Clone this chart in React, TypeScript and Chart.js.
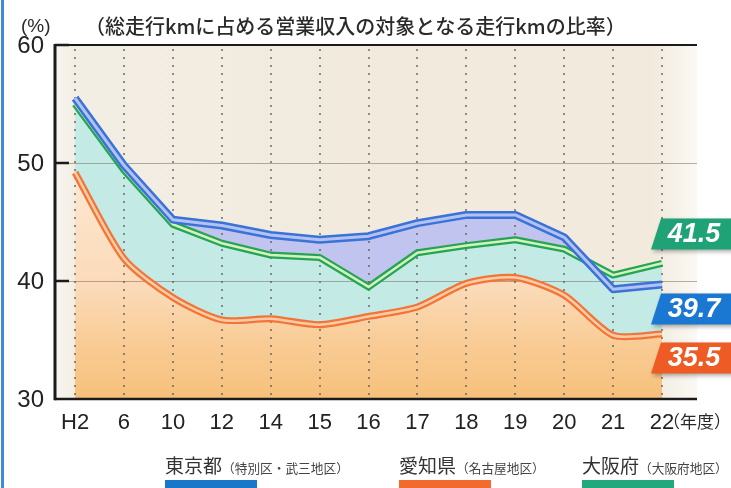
import React, { useEffect, useRef } from "react";
import { Chart, registerables } from "chart.js";

Chart.register(...registerables);

// Fiscal years (Heisei) on the horizontal axis
const categories = ["H2", "6", "10", "12", "14", "15", "16", "17", "18", "19", "20", "21", "22"];
// Share of revenue-earning km in total km driven (%)
const tokyo = [55.5, 49.8, 45.2, 44.7, 43.9, 43.5, 43.8, 44.9, 45.6, 45.6, 43.7, 39.3, 39.7];
const osaka = [55.0, 49.4, 44.8, 43.2, 42.2, 42.0, 39.5, 42.4, 43.0, 43.5, 42.7, 40.5, 41.5];
const aichi = [49.2, 41.9, 38.6, 36.7, 36.8, 36.3, 37.0, 37.8, 39.8, 40.3, 38.8, 35.4, 35.5];
const yTicks = [30, 40, 50, 60];

const seriesNames = ["東京都", "愛知県", "大阪府"];
const seriesAreas = ["（特別区・武三地区）", "（名古屋地区）", "（大阪府地区）"];
const titleText = "（総走行kmに占める営業収入の対象となる走行kmの比率）";
const unitText = "(%)";
const yearUnitText = "（年度）";

const NUM_FONT = '"Liberation Sans Narrow", "Liberation Sans", Arial, sans-serif';
const BADGE_FONT = '"Liberation Sans", Arial, sans-serif';
const UNIT_FONT = '"Liberation Sans", Arial, sans-serif';
const JP_FONT = '"Noto Sans CJK JP", "Noto Sans CJK SC", sans-serif';

const COLORS = {
  tokyo: { line: "#3b72d8", core: "#b3c2f3", legend: "#1877c9", badge: "#1a78d2" },
  aichi: { line: "#f07537", core: "#fdcca6", legend: "#f26a2e", badge: "#ee5b25" },
  osaka: { line: "#25a553", core: "#d3f2c0", legend: "#21a87c", badge: "#1fa276" },
};

const pts = (arr: number[]) => arr.map((y, i) => ({ x: i, y }));

// Plot background
const plotBackground = {
  id: "plotBackground",
  beforeDraw(chart: any) {
    const { ctx, chartArea: a } = chart;
    ctx.save();
    const g = ctx.createLinearGradient(a.left, 0, a.right, 0);
    g.addColorStop(0, "#f8f6f1");
    g.addColorStop(0.03, "#f3eee4");
    g.addColorStop(0.5, "#f1eadd");
    g.addColorStop(0.93, "#f1eadd");
    g.addColorStop(1, "#fbf9f5");
    ctx.fillStyle = g;
    ctx.fillRect(a.left, a.top, a.right - a.left, a.bottom - a.top);
    ctx.restore();
  },
};

// Horizontal guides and dotted year lines, drawn over the area fills
const guideLines = {
  id: "guideLines",
  beforeDatasetsDraw(chart: any) {
    const { ctx, chartArea: a, scales } = chart;
    const x = scales.x;
    const y = scales.y;
    ctx.save();
    ctx.strokeStyle = "rgba(120,112,100,0.55)";
    ctx.lineWidth = 1;
    yTicks.slice(1, -1).forEach((v) => {
      const py = Math.round(y.getPixelForValue(v)) + 0.5;
      ctx.beginPath();
      ctx.moveTo(a.left, py);
      ctx.lineTo(a.right, py);
      ctx.stroke();
    });
    ctx.strokeStyle = "rgba(100,96,90,0.7)";
    ctx.lineWidth = 2;
    ctx.setLineDash([2, 6]);
    categories.forEach((_, i) => {
      const px = Math.round(x.getPixelForValue(i));
      ctx.beginPath();
      ctx.moveTo(px, a.top + 4);
      ctx.lineTo(px, a.bottom);
      ctx.stroke();
    });
    ctx.restore();
  },
};

// Axis frame, inner tick marks, titles, end-value badges and legend
const decorations = {
  id: "decorations",
  afterDatasetsDraw(chart: any) {
    const { ctx, chartArea: a, scales } = chart;
    const y = scales.y;
    ctx.save();
    ctx.strokeStyle = "#1b1b1b";
    ctx.lineWidth = 2;
    ctx.beginPath();
    ctx.moveTo(a.left, a.top);
    ctx.lineTo(a.right, a.top);
    ctx.stroke();
    ctx.lineWidth = 2.5;
    ctx.beginPath();
    ctx.moveTo(a.left, a.bottom);
    ctx.lineTo(a.right, a.bottom);
    ctx.stroke();
    ctx.lineWidth = 3;
    ctx.beginPath();
    ctx.moveTo(a.left, a.top - 1);
    ctx.lineTo(a.left, a.bottom + 1.2);
    ctx.stroke();
    ctx.lineWidth = 2.5;
    yTicks.slice(1).forEach((v) => {
      const py = y.getPixelForValue(v);
      ctx.beginPath();
      ctx.moveTo(a.left, py);
      ctx.lineTo(a.left + 14, py);
      ctx.stroke();
    });
    ctx.restore();
  },
  afterDraw(chart: any) {
    const { ctx, chartArea: a, scales } = chart;
    const x = scales.x;
    ctx.save();

    // page edge rule
    ctx.fillStyle = "#3f8ad8";
    ctx.fillRect(1, 0, 3, chart.height);

    // unit and title
    ctx.fillStyle = "#2a2a2a";
    ctx.textBaseline = "alphabetic";
    ctx.textAlign = "left";
    ctx.font = `19px ${UNIT_FONT}`;
    ctx.fillText(unitText, 21, 32);
    ctx.font = `500 20px ${JP_FONT}`;
    ctx.fillText(titleText, 85, 34);

    // year unit next to last category
    const lastX = x.getPixelForValue(categories.length - 1);
    ctx.font = `17px ${JP_FONT}`;
    ctx.fillText(yearUnitText, lastX + 1, 428);

    // end-value badges
    const last = categories.length - 1;
    const badges = [
      { value: osaka[last], color: COLORS.osaka.badge, cy: 234 },
      { value: tokyo[last], color: COLORS.tokyo.badge, cy: 309 },
      { value: aichi[last], color: COLORS.aichi.badge, cy: 358 },
    ];
    badges.forEach((b) => {
      const h = 31;
      const top = b.cy - h / 2;
      ctx.save();
      ctx.shadowColor = "rgba(0,0,0,0.35)";
      ctx.shadowBlur = 4;
      ctx.shadowOffsetX = 2;
      ctx.shadowOffsetY = 2;
      ctx.fillStyle = b.color;
      ctx.beginPath();
      ctx.moveTo(a.right - 36, top);
      ctx.lineTo(chart.width + 10, top);
      ctx.lineTo(chart.width + 10, top + h);
      ctx.lineTo(a.right - 46, top + h);
      ctx.closePath();
      ctx.fill();
      ctx.restore();
      ctx.save();
      ctx.fillStyle = "#ffffff";
      ctx.font = `italic bold 27px ${BADGE_FONT}`;
      ctx.textAlign = "center";
      ctx.textBaseline = "middle";
      ctx.fillText(b.value.toFixed(1), a.right - 3, b.cy + 1);
      ctx.restore();
    });

    // legend
    const legendX = [165, 399, 582];
    const legendColors = [COLORS.tokyo.legend, COLORS.aichi.legend, COLORS.osaka.legend];
    seriesNames.forEach((name, i) => {
      const lx = legendX[i];
      ctx.fillStyle = "#333333";
      ctx.font = `19px ${JP_FONT}`;
      ctx.fillText(name, lx, 473);
      const w = ctx.measureText(name).width;
      ctx.fillStyle = "#444444";
      ctx.font = `12.7px ${JP_FONT}`;
      ctx.fillText(seriesAreas[i], lx + w, 473);
      ctx.fillStyle = legendColors[i];
      ctx.fillRect(lx, 480, 92, 10);
    });
    ctx.restore();
  },
};

export default function App() {
  const ref = useRef<HTMLCanvasElement>(null);

  useEffect(() => {
    const canvas = ref.current;
    if (!canvas) return;

    const orangeFill = (c: any) => {
      const area = c.chart.chartArea;
      if (!area) return "#f9d3a6";
      const g = c.chart.ctx.createLinearGradient(0, area.top + 110, 0, area.bottom);
      g.addColorStop(0, "#fde9d6");
      g.addColorStop(0.55, "#fbdab8");
      g.addColorStop(0.75, "#f9cd98");
      g.addColorStop(1, "#f6c07a");
      return g;
    };

    const chart = new Chart(canvas, {
      type: "line",
      data: {
        datasets: [
          { label: "tokyo-core", data: pts(tokyo), borderColor: COLORS.tokyo.core, borderWidth: 3, fill: false },
          {
            label: seriesNames[0],
            data: pts(tokyo),
            borderColor: COLORS.tokyo.line,
            borderWidth: 8,
            fill: { target: 3, above: "rgba(186,192,240,0.9)", below: "rgba(0,0,0,0)" },
          },
          { label: "osaka-core", data: pts(osaka), borderColor: COLORS.osaka.core, borderWidth: 2.5, fill: false },
          {
            label: seriesNames[2],
            data: pts(osaka),
            borderColor: COLORS.osaka.line,
            borderWidth: 7,
            fill: { target: 5, above: "#c3eae5", below: "#c3eae5" },
          },
          { label: "aichi-core", data: pts(aichi), borderColor: COLORS.aichi.core, borderWidth: 2.5, tension: 0.25, fill: false },
          {
            label: seriesNames[1],
            data: pts(aichi),
            borderColor: COLORS.aichi.line,
            borderWidth: 7,
            tension: 0.25,
            fill: "start",
            backgroundColor: orangeFill,
          },
        ],
      },
      options: {
        responsive: false,
        animation: false,
        devicePixelRatio: 1,
        layout: { padding: { top: 45, right: 34, left: 0, bottom: 0 } },
        elements: {
          point: { radius: 0 },
          line: { borderJoinStyle: "round", borderCapStyle: "butt" },
        },
        plugins: {
          legend: { display: false },
          tooltip: { enabled: false },
          filler: { drawTime: "beforeDatasetsDraw", propagate: false },
        },
        scales: {
          x: {
            type: "linear",
            min: -0.41,
            max: 12.715,
            grid: { display: false, drawTicks: false },
            border: { display: false },
            afterBuildTicks: (s: any) => {
              s.ticks = categories.map((_, i) => ({ value: i }));
            },
            afterFit: (s: any) => {
              s.height = 89;
            },
            ticks: {
              autoSkip: false,
              maxRotation: 0,
              padding: 11,
              color: "#222222",
              font: { family: NUM_FONT, size: 22 },
              callback: (v: any) => categories[v] ?? "",
            },
          },
          y: {
            min: 30,
            max: 60,
            grid: { display: false, drawTicks: false },
            border: { display: false },
            afterBuildTicks: (s: any) => {
              s.ticks = yTicks.map((v) => ({ value: v }));
            },
            afterFit: (s: any) => {
              s.width = 55;
            },
            ticks: {
              padding: 11,
              labelOffset: 1.5,
              color: "#222222",
              font: { family: NUM_FONT, size: 24 },
            },
          },
        },
      },
      plugins: [plotBackground, guideLines, decorations],
    } as any);

    return () => chart.destroy();
  }, []);

  return (
    <div style={{ position: "absolute", left: 0, top: 0, width: 731, height: 488, background: "#ffffff" }}>
      <canvas ref={ref} width={731} height={488} style={{ display: "block", width: 731, height: 488 }} />
    </div>
  );
}
